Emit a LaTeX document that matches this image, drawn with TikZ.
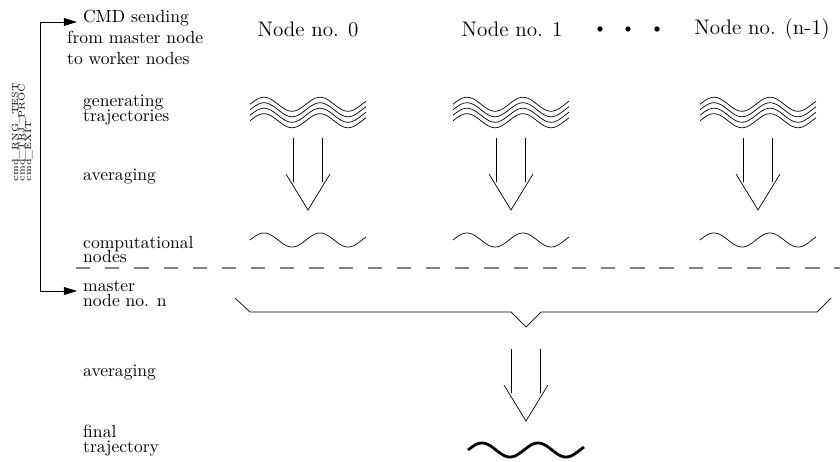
\documentclass[tikz,border=0pt]{standalone}
\usepackage{fontspec}
\usetikzlibrary{arrows.meta}
\newcommand\tightlines{\lineskiplimit=-5pt\relax}
\tikzset{
    lbl/.style={anchor=west,align=left,font=\linespread{.71}\selectfont\tightlines},
    hdr/.style={font=\large},
    busarrow/.style={-{Triangle[length=7.5pt,width=4.5pt]}},
    sep/.style={gray,line width=.8pt,dash pattern=on 8.1pt off 8.5pt},
    pics/wave/.style={code={\draw[#1] plot[domain=-58:58,samples=80] (\x,{-7*sin(6.4286*(\x+58))});}},
    pics/bundle/.style={code={\foreach \d in {-8.25,-2.75,2.75,8.25}
        \draw plot[domain=-58:58,samples=80] (\x,{\d-7*sin(6.4286*(\x+58))});}},
    pics/avg/.style={code={\draw (-14.5,0) -- (-14.5,44) (14.5,0) -- (14.5,44) (-22,36) -- (0,72) -- (22,36);}},
  }
\begin{document}
\begin{tikzpicture}[x=0.2mm,y=-0.2mm]
	%x,y in pixels from top left
	\useasboundingbox (0,0) rectangle (840,461);
	%node headers
	\node[hdr] (n0) at (308,29) {Node no. 0};
	\node[hdr] (n1) at (512,29) {Node no. 1};
	\node[hdr] (nn) at (762,29) {Node no. (n-1)};
	\foreach \x in {600,628,657} \fill (\x,29) circle (1.5pt);
	%labels on the left
	\node[anchor=west,align=left] (cmd) at (61,37.5) {\hspace*{9pt}CMD sending\\from master node\\to worker nodes};
	\node[lbl] (gen) at (77,110.5) {generating\\trajectories};
	\node[lbl] (avg) at (77,177) {averaging};
	\node[lbl] (comp) at (77,249.5) {computational\\nodes};
	\node[lbl] (master) at (77,293.5) {master\\node no. n};
	\node[lbl] (avgm) at (77,373) {averaging};
	\node[lbl] (fin) at (77,441) {final\\trajectory};
	\node[rotate=90,align=left,font=\fontsize{5.1}{3.7}\selectfont\tightlines] (cmds) at (22,132) {cmd\_RNG\_TEST\\cmd\_TRJ\_PROC\\cmd\_EXIT};
	%command bus
	\coordinate (bustop) at (40,22);
	\coordinate (busbot) at (40,291);
	\coordinate (cmdtip) at (77,22);
	\draw[busarrow] (busbot) -- (bustop) -- (cmdtip);
	\draw[busarrow] (bustop) -- (busbot) -- (busbot -| master.west);
	\draw[sep] (76,268) -- (840,268);
	%worker columns
	\foreach \c in {308,511,758}{
		\pic at (\c,112.5) {bundle};
		\pic at (\c,138) {avg};
		\pic at (\c,240) {wave};
	}
	%master node
	\draw (235,298) -- (250,312) -- (511,312) -- (526,327) -- (541,312) -- (817,312) -- (831,298);
	\pic at (526,349) {avg};
	\pic at (526,450) {wave={line width=1.6pt}};
\end{tikzpicture}
\end{document}
